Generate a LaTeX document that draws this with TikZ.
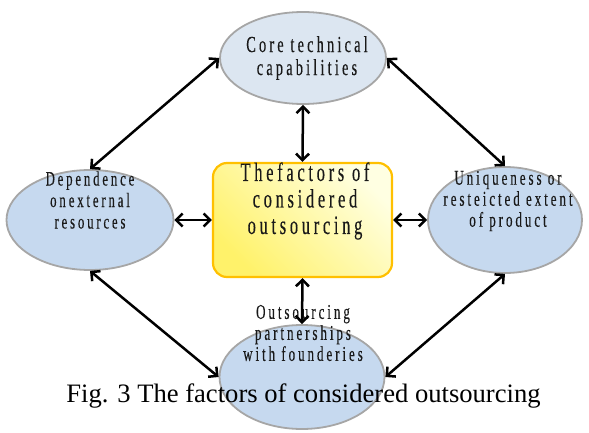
\documentclass[tikz,border=0pt]{standalone}
\usepackage{fontspec}
\setmainfont{Liberation Serif}
\newfontfamily\nf[FakeStretch=0.62,LetterSpace=14,FakeBold=0.25]{Liberation Serif}
\usetikzlibrary{shapes.geometric,arrows.meta}
\definecolor{ellblue}{HTML}{C6D9EF}
\definecolor{elltop}{HTML}{DCE6F1}
\definecolor{ellgray}{HTML}{A6A6A6}
\definecolor{boxorange}{HTML}{FFC000}
\definecolor{boxyel}{HTML}{FFF26A}
\definecolor{boxpale}{HTML}{FFFFE2}
\begin{document}
\begin{tikzpicture}[x=1pt,y=-1pt,
  ell/.style={ellipse, draw=ellgray, line width=1.8pt, fill=ellblue, inner sep=0pt},
  conn/.style={{Straight Barb[length=6.5pt,width=13pt]}-{Straight Barb[length=6.5pt,width=13pt]}, line width=2.5pt, black},
  txt/.style={align=center, inner sep=0pt, text=black!90}
]
\useasboundingbox (0,0) rectangle (589,433);
% shapes
\node[ell, fill=elltop, minimum width=166pt, minimum height=92pt] (T) at (303,58) {};
\node[ell, minimum width=167pt, minimum height=100pt] (L) at (90,220) {};
\node[ell, minimum width=154pt, minimum height=106pt] (R) at (505,220) {};
\node[ell, minimum width=165pt, minimum height=104pt] (B) at (302,377) {};
\node[draw=boxorange, line width=2.2pt, rounded corners=14pt, minimum width=179pt, minimum height=114pt,
      top color=boxpale, bottom color=boxyel, shading angle=-45] (C) at (302.5,220) {};
% texts
\node[txt, font=\nf\fontsize{23}{23}\selectfont] (tT) at (307,58) {Core technical\\capabilities};
\node[txt, font=\nf\fontsize{26.5}{26.5}\selectfont] (tC) at (305,201) {Thefactors of\\considered\\outsourcing};
\node[txt, font=\nf\fontsize{20.5}{21.5}\selectfont] (tL) at (90,200) {Dependence\\on\hspace{-3pt} external\\resources};
\node[txt, font=\nf\fontsize{21}{21}\selectfont] (tR) at (508,201) {Uniqueness or\\resteicted extent\\of product};
\node[txt, font=\nf\fontsize{21}{21}\selectfont] (tB) at (303,333) {Outsourcing\\partnerships\\with founderies};
% connectors
\draw[conn] (T.west) -- (L.north);
\draw[conn] (T.east) -- (R.north);
\draw[conn] (T.south) -- (C.north);
\draw[conn] (L.east) -- (C.west);
\draw[conn] (C.east) -- (R.west);
\draw[conn] (C.south) -- (B.north);
\draw[conn] (L.south) -- (B.west);
\draw[conn] (R.south) -- (B.east);
% caption
\node[anchor=base, inner sep=0pt, font=\fontsize{26.6}{30}\selectfont] (cap) at (303.5,402) {Fig. 3 The factors of considered outsourcing};
\end{tikzpicture}
\end{document}
